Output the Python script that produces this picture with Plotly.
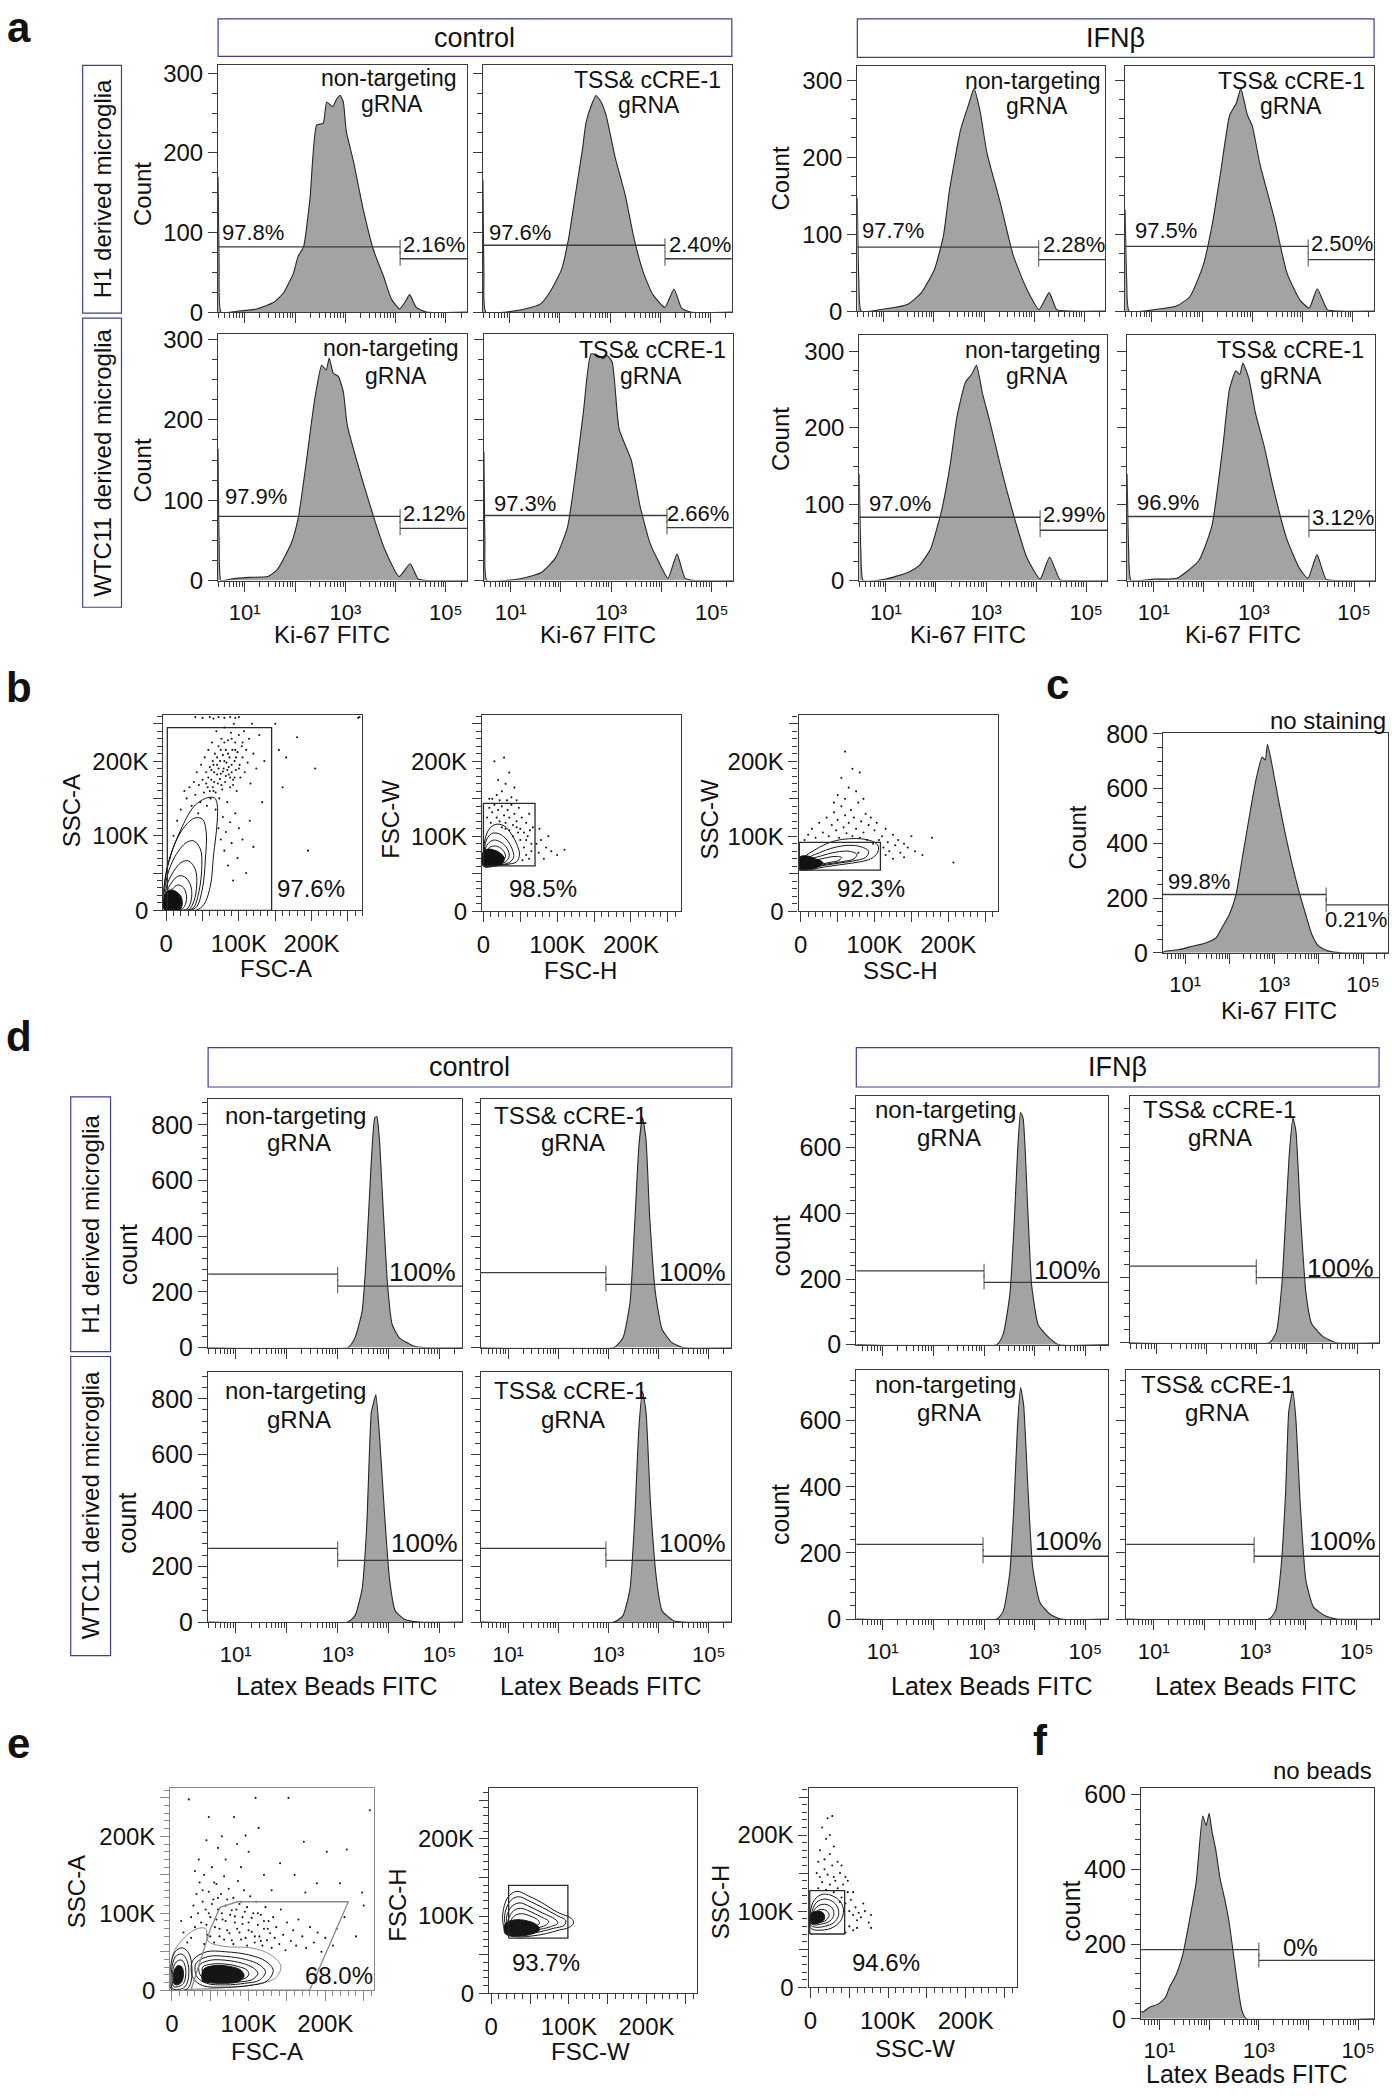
import math
import plotly.graph_objects as go

W, H = 1392, 2100
INK = '#111111'
AXC = '#3a3a3a'
FILL = '#a3a3a3'
HLINE = '#262626'
GATEC = '#3c3c3c'
BOXC = '#3f3f95'
FONT = 'Liberation Sans, Arial, Helvetica, sans-serif'

# ------------------------------------------------------------------ DATA
# Panel a: Ki-67 FITC histograms (x = log10 intensity, y = count)
a_h1_ctrl_nt_x = [0.47, 0.49, 0.53, 0.84, 1.24, 1.57, 1.77, 1.97, 2.06, 2.17, 2.3, 2.43, 2.56, 2.63, 2.75, 2.83, 2.9, 2.96, 3.02, 3.16, 3.36, 3.56, 3.76, 3.92, 4.08, 4.2, 4.28, 4.41, 4.61, 5.42]
a_h1_ctrl_nt_y = [170, 60, 0, 1, 4, 12, 24, 49, 70, 82, 144, 235, 237, 264, 258, 268, 272, 264, 227, 190, 128, 78, 45, 16, 4, 14, 22, 6, 0, 0]
a_h1_ctrl_tss_x = [0.47, 0.49, 0.53, 1.24, 1.61, 1.8, 2.03, 2.17, 2.31, 2.45, 2.52, 2.64, 2.72, 2.82, 2.92, 3.1, 3.3, 3.48, 3.67, 3.85, 4.09, 4.27, 4.42, 4.6, 5.42]
a_h1_ctrl_tss_y = [166, 50, 0, 3, 10, 25, 53, 91, 148, 205, 238, 262, 272, 264, 247, 194, 147, 91, 48, 22, 6, 29, 5, 0, 0]
a_h1_ifn_nt_x = [0.47, 0.5, 0.55, 1.04, 1.48, 1.75, 2.01, 2.19, 2.31, 2.53, 2.7, 2.8, 2.92, 3.06, 3.32, 3.58, 3.85, 4.1, 4.3, 4.45, 4.7, 5.42]
a_h1_ifn_nt_y = [147, 40, 0, 3, 9, 24, 54, 98, 157, 235, 270, 289, 260, 205, 142, 73, 29, 2, 24, 2, 0, 0]
a_h1_ifn_tss_x = [0.47, 0.5, 0.55, 1.06, 1.5, 1.76, 2.02, 2.2, 2.37, 2.55, 2.68, 2.77, 2.9, 3.0, 3.15, 3.43, 3.69, 3.95, 4.13, 4.29, 4.49, 4.7, 5.44]
a_h1_ifn_tss_y = [132, 40, 0, 2, 7, 19, 59, 112, 181, 255, 270, 289, 255, 240, 191, 122, 49, 14, 4, 29, 2, 0, 0]
a_wtc_ctrl_nt_x = [0.47, 0.49, 0.53, 0.72, 1.08, 1.46, 1.65, 1.93, 2.07, 2.21, 2.39, 2.53, 2.62, 2.68, 2.76, 2.86, 2.96, 3.04, 3.33, 3.61, 3.79, 4.07, 4.29, 4.45, 4.65, 5.42]
a_wtc_ctrl_nt_y = [164, 50, 0, 2, 4, 5, 14, 47, 80, 141, 225, 268, 262, 277, 258, 254, 235, 193, 127, 70, 38, 5, 21, 2, 0, 0]
a_wtc_ctrl_tss_x = [0.47, 0.49, 0.53, 1.24, 1.61, 1.89, 2.13, 2.31, 2.45, 2.6, 2.74, 2.84, 2.92, 3.02, 3.16, 3.4, 3.57, 3.77, 3.95, 4.13, 4.31, 4.47, 4.65, 5.42]
a_wtc_ctrl_tss_y = [160, 50, 0, 3, 10, 28, 66, 141, 211, 282, 280, 276, 280, 272, 188, 150, 94, 47, 23, 3, 33, 3, 0, 0]
a_wtc_ifn_nt_x = [0.47, 0.5, 0.55, 1.0, 1.45, 1.67, 1.89, 2.11, 2.28, 2.42, 2.59, 2.71, 2.81, 2.93, 3.07, 3.29, 3.55, 3.81, 4.08, 4.27, 4.48, 4.7, 5.42]
a_wtc_ifn_nt_y = [140, 40, 0, 2, 11, 20, 41, 91, 150, 215, 260, 270, 282, 245, 210, 150, 86, 31, 2, 31, 1, 0, 0]
a_wtc_ifn_tss_x = [0.47, 0.5, 0.55, 1.0, 1.46, 1.9, 2.16, 2.38, 2.51, 2.64, 2.72, 2.78, 2.9, 3.03, 3.21, 3.39, 3.65, 3.91, 4.08, 4.26, 4.44, 4.65, 5.44]
a_wtc_ifn_tss_y = [140, 40, 0, 2, 3, 26, 71, 175, 250, 275, 270, 285, 265, 220, 175, 121, 56, 16, 3, 34, 2, 0, 0]
# gates: (split log10, left-gate count level, right-gate count level)
a_gates = [(4.09, 82, 67), (4.09, 84, 67), (4.09, 83, 67), (4.11, 84, 67),
           (4.09, 80, 65), (4.11, 81, 66), (4.08, 83, 66), (4.10, 84, 66)]
a_left_pct = ['97.8%', '97.6%', '97.7%', '97.5%', '97.9%', '97.3%', '97.0%', '96.9%']
a_right_pct = ['2.16%', '2.40%', '2.28%', '2.50%', '2.12%', '2.66%', '2.99%', '3.12%']

# Panel c: unstained Ki-67 FITC
c_x = [0.5, 0.53, 0.87, 1.16, 1.46, 1.69, 1.84, 1.99, 2.14, 2.28, 2.43, 2.59, 2.73, 2.8, 2.85, 2.96, 3.11, 3.26, 3.41, 3.56, 3.71, 3.85, 4.0, 4.23, 4.5, 5.56]
c_y = [0, 5, 12, 24, 36, 54, 96, 139, 211, 343, 487, 632, 716, 705, 762, 680, 548, 427, 319, 223, 139, 66, 24, 6, 0, 0]
c_gate = (4.17, 213, 175)

# Panel d: Latex beads FITC histograms
d_h1_ctrl_nt_x = [0.46, 3.2, 3.34, 3.48, 3.57, 3.66, 3.73, 3.77, 3.82, 3.89, 3.98, 4.07, 4.21, 4.49, 4.7, 5.44]
d_h1_ctrl_nt_y = [0, 0, 35, 130, 351, 667, 826, 829, 746, 509, 224, 83, 35, 6, 0, 0]
d_h1_ctrl_tss_x = [0.46, 3.11, 3.29, 3.43, 3.52, 3.61, 3.68, 3.75, 3.82, 3.94, 4.07, 4.26, 4.49, 5.44]
d_h1_ctrl_tss_y = [0, 0, 35, 161, 430, 730, 826, 746, 477, 192, 66, 19, 0, 0]
d_h1_ifn_nt_x = [0.48, 3.25, 3.38, 3.51, 3.59, 3.66, 3.72, 3.77, 3.86, 3.94, 4.07, 4.29, 4.47, 5.45]
d_h1_ifn_nt_y = [0, 0, 33, 154, 355, 583, 707, 690, 422, 180, 60, 20, 0, 0]
d_h1_ifn_tss_x = [0.47, 3.25, 3.39, 3.5, 3.59, 3.65, 3.72, 3.78, 3.87, 3.98, 4.09, 4.31, 4.58, 5.44]
d_h1_ifn_tss_y = [0, 0, 33, 180, 422, 583, 690, 650, 395, 153, 60, 20, 0, 0]
d_wtc_ctrl_nt_x = [0.46, 3.2, 3.34, 3.48, 3.57, 3.66, 3.7, 3.75, 3.82, 3.92, 4.02, 4.13, 4.32, 4.6, 5.44]
d_wtc_ctrl_nt_y = [0, 0, 23, 118, 339, 750, 782, 814, 671, 387, 150, 40, 9, 0, 0]
d_wtc_ctrl_tss_x = [0.46, 3.11, 3.29, 3.43, 3.52, 3.61, 3.68, 3.75, 3.84, 3.96, 4.07, 4.3, 4.49, 5.44]
d_wtc_ctrl_tss_y = [0, 0, 23, 118, 355, 703, 826, 752, 419, 150, 40, 5, 0, 0]
d_wtc_ifn_nt_x = [0.48, 3.25, 3.38, 3.51, 3.59, 3.66, 3.72, 3.78, 3.87, 3.96, 4.1, 4.29, 4.51, 5.45]
d_wtc_ifn_nt_y = [0, 0, 24, 143, 343, 583, 700, 649, 383, 156, 51, 16, 0, 0]
d_wtc_ifn_tss_x = [0.46, 3.27, 3.4, 3.51, 3.6, 3.66, 3.7, 3.74, 3.8, 3.89, 4.0, 4.15, 4.39, 4.6, 5.44]
d_wtc_ifn_tss_y = [0, 0, 24, 156, 383, 624, 663, 690, 609, 343, 116, 36, 9, 0, 0]
d_gates = [(3.0, 264, 221), (2.95, 269, 227), (3.0, 225, 190), (2.99, 235, 200),
           (3.0, 264, 221), (2.95, 264, 221), (2.98, 226, 190), (2.98, 226, 190)]

# Panel f: no beads
f_x = [0.63, 0.66, 0.8, 0.98, 1.12, 1.2, 1.34, 1.47, 1.6, 1.74, 1.87, 1.94, 2.0, 2.06, 2.13, 2.22, 2.31, 2.4, 2.49, 2.58, 2.66, 2.75, 5.32]
f_y = [20, 18, 31, 40, 57, 84, 119, 172, 260, 366, 542, 516, 549, 498, 454, 375, 322, 260, 172, 84, 22, 0, 0]
f_gate = (3.0, 185, 156)

# Panel b: scatter gating (values in thousands)
b1_dot_x = [28, 32, 35, 38, 40, 42, 44, 45, 47, 48, 50, 52, 53, 55, 56, 57, 58, 60, 61, 62, 63, 64, 65, 66, 67, 68, 69, 70, 71, 72,
            73, 74, 75, 76, 77, 78, 79, 80, 81, 82, 83, 84, 85, 86, 87, 88, 89, 90, 91, 92, 93, 94, 95, 96, 97, 98, 100, 101, 102, 104,
            105, 107, 108, 110, 112, 114, 116, 118, 120, 124, 128, 132, 135,
            72, 75, 78, 80, 82, 85, 88, 90, 92, 95, 98, 100, 105, 110, 115, 120,
            155, 165, 180, 205, 195, 160, 150,
            40, 50, 60, 65, 72, 80, 88, 95, 100, 264, 266,
            10, 15, 20, 5, 25,
            58, 62, 66, 70, 74, 78, 82, 86, 90, 94, 64, 68, 72, 76, 80, 84, 88, 92, 96, 100, 55, 60, 65, 70, 75, 80, 85, 90, 95, 105]
b1_dot_y = [150, 165, 140, 172, 155, 185, 130, 168, 145, 195, 175, 158, 205, 185, 140, 165, 215, 192, 150, 175, 225, 200, 160, 185, 210, 135, 240, 195, 170, 220,
            150, 200, 183, 230, 162, 208, 190, 245, 172, 215, 198, 145, 228, 182, 205, 165, 238, 195, 215, 175, 250, 200, 225, 188, 160, 212, 235, 195, 178, 220,
            205, 240, 185, 215, 198, 230, 170, 250, 210, 190, 235, 145, 200,
            110, 95, 125, 80, 105, 60, 118, 90, 40, 130, 70, 110, 95, 50, 120, 85,
            215, 205, 232, 190, 80, 165, 250,
            259, 258, 259, 257, 259, 258, 259, 258, 259, 258, 259,
            100, 120, 135, 70, 160,
            178, 188, 172, 182, 176, 186, 180, 192, 185, 178, 165, 158, 190, 168, 200, 188, 178, 168, 205, 190, 170, 160, 195, 205, 215, 225, 210, 230, 215, 225]
b1_rings = [
    [(-2, 0), (-2, 38), (6, 73), (20, 108), (38, 139), (54, 150), (66, 151), (70, 143), (70, 117), (65, 73), (61, 34), (52, 8), (41, 0)],
    [(-1, 0), (-1, 45), (10, 85), (25, 112), (40, 124), (50, 122), (55, 105), (54, 70), (50, 30), (42, 5), (33, 0)],
    [(-1, 0), (0, 40), (12, 72), (28, 91), (38, 93), (47, 82), (49, 60), (45, 25), (37, 3), (28, 0)],
    [(-1, 0), (0, 30), (10, 52), (22, 65), (31, 66), (40, 55), (42, 35), (38, 12), (30, 0)],
    [(-1, 0), (0, 22), (8, 38), (17, 46), (25, 45), (33, 35), (35, 18), (30, 3), (22, 0)],
    [(-1, 0), (0, 15), (8, 28), (16, 34), (24, 30), (28, 18), (25, 5), (18, 0)],
]
b1_core = [(-2, 0), (-2, 20), (4, 27), (12, 26), (20, 19), (22, 8), (18, 0)]
b1_gate = (1.5, 145, 0, 245)

b2_dot_x = [5, 8, 10, 12, 15, 18, 20, 22, 25, 28, 30, 33, 35, 38, 40, 42, 45, 48, 50, 52, 55, 58, 60, 62, 65, 67, 55, 58, 62, 65, 50, 47, 53, 45, 40, 35, 30, 25, 58, 63,
            72, 75, 78, 82, 85, 92, 100, 110, 88, 76,
            12, 18, 25, 20, 30, 35, 15, 28, 38, 45, 42, 32, 22, 8]
b2_dot_y = [125, 138, 118, 132, 142, 125, 135, 120, 140, 128, 118, 135, 125, 142, 115, 130, 120, 138, 110, 125, 105, 118, 100, 130, 90, 112, 85, 75, 70, 80, 95, 105, 68, 112, 100, 108, 110, 112, 95, 108,
            90, 78, 95, 70, 85, 80, 75, 82, 100, 110,
            150, 155, 160, 175, 170, 185, 200, 205, 152, 148, 165, 148, 148, 150]
b2_rings = [
    [(1, 62), (0, 75), (2, 95), (8, 110), (17, 116), (28, 114), (38, 103), (45, 90), (49, 76), (45, 66), (35, 63), (20, 61), (8, 60)],
    [(1, 63), (1, 78), (4, 95), (12, 104), (22, 103), (32, 95), (39, 83), (41, 72), (35, 65), (20, 62)],
    [(1, 63), (1, 78), (6, 90), (14, 95), (24, 92), (32, 84), (35, 74), (30, 66), (15, 63)],
    [(1, 64), (2, 76), (8, 85), (17, 87), (26, 82), (30, 73), (24, 66), (12, 64)],
    [(1, 64), (3, 74), (10, 80), (19, 80), (24, 74), (20, 67), (10, 64)],
]
b2_core = [(0, 60), (0, 80), (8, 83), (20, 79), (28, 72), (26, 64), (14, 60)]
b2_gate = (0, 70, 60.5, 144)

b3_dot_x = [5, 10, 15, 20, 25, 30, 35, 38, 42, 45, 48, 50, 52, 55, 58, 60, 62, 65, 68, 70, 72, 75, 78, 80, 82, 85, 88, 90, 92, 95,
            98, 100, 103, 106, 110, 112, 115, 118, 120, 125, 128, 132, 135, 140, 145, 150, 155, 165, 178,
            60, 65, 75, 50, 45, 85, 55, 70, 80, 60, 115, 125, 140, 207, 78]
b3_dot_y = [95, 102, 110, 98, 118, 105, 125, 100, 115, 132, 108, 122, 98, 140, 112, 128, 104, 118, 135, 100, 125, 110, 145, 98, 120, 105, 130, 95, 115, 125,
            90, 108, 118, 95, 100, 85, 110, 92, 80, 102, 88, 95, 78, 90, 85, 100, 80, 75, 98,
            150, 165, 160, 155, 145, 150, 178, 190, 185, 213, 75, 70, 72, 65, 78]
b3_rings = [
    [(-2, 57), (5, 72), (21, 83), (40, 92), (57, 96), (75, 97), (87, 96), (100, 92), (105, 87), (104, 78), (95, 70), (80, 66), (60, 63), (45, 61), (25, 58), (9, 55)],
    [(-1, 58), (8, 70), (25, 78), (45, 85), (65, 88), (82, 86), (92, 80), (88, 72), (70, 67), (50, 64), (30, 61), (10, 57)],
    [(-1, 58), (10, 68), (28, 74), (48, 79), (66, 80), (76, 76), (72, 70), (55, 66), (35, 63), (15, 59)],
    [(-1, 58), (10, 66), (28, 70), (45, 73), (55, 72), (52, 68), (38, 65), (18, 61)],
]
b3_core = [(-2, 56), (-2, 72), (8, 74), (20, 70), (30, 65), (25, 60), (10, 56)]
b3_gate = (-2, 108, 55, 92)

# Panel e
e1_dot_x = [25, 28, 30, 32, 34, 36, 38, 40, 42, 44, 46, 48, 50, 52, 54, 56, 58, 60, 62, 64, 66, 68, 70, 72, 74, 76, 78, 80, 82, 84,
            86, 88, 90, 92, 94, 96, 98, 100, 102, 104, 106, 108, 110, 112, 114, 116, 118, 120, 122, 124, 126, 128, 130, 132, 134, 136, 140, 142, 145, 148,
            150, 155, 158, 162, 165, 170, 175, 180, 185, 190, 195, 200, 210, 215, 225, 240, 250,
            22, 48, 81, 109, 152, 258, 113, 96, 172, 202, 228, 141, 174, 248, 219, 189, 60, 35, 45, 70, 90, 120, 100, 55, 30, 65, 130, 160, 85, 40,
            20, 15, 25, 12,
            42, 45, 48, 50, 52, 55, 58, 60, 62, 65, 68, 70, 72, 75, 78, 80, 82, 85, 88, 90, 92, 95, 98, 100, 104, 108, 112, 116, 120, 125]
e1_dot_y = [95, 110, 82, 125, 100, 140, 88, 115, 150, 105, 72, 128, 95, 160, 118, 82, 138, 105, 70, 125, 92, 148, 110, 78, 132, 98, 65, 120, 88, 105,
            142, 75, 115, 95, 130, 68, 108, 88, 122, 76, 100, 62, 115, 85, 70, 98, 58, 80, 108, 65, 90, 74, 55, 95, 68, 82, 60, 105, 72, 52,
            88, 64, 78, 58, 92, 70, 55, 82, 62, 75, 50, 68, 58, 80, 95, 70, 110,
            248, 225, 225, 250, 250, 234, 211, 201, 193, 180, 183, 165, 127, 127, 139, 139, 185, 170, 195, 170, 160, 150, 180, 140, 155, 200, 130, 150, 190, 130,
            62, 75, 68, 90,
            60, 85, 100, 70, 112, 62, 92, 120, 80, 100, 66, 90, 118, 74, 104, 60, 96, 80, 112, 66, 86, 102, 58, 78, 94, 70, 100, 64, 90, 80]
e1_outer = [(1, 0), (1, 46), (18, 70), (33, 80), (44, 80), (47, 64), (68, 57), (103, 55), (129, 46), (142, 31), (135, 16), (111, 8), (64, 3), (20, 1)]
e1_main_rings = [
    [(28, 40), (45, 50), (70, 50), (100, 46), (122, 38), (132, 26), (124, 12), (100, 6), (70, 4), (40, 6), (28, 15), (25, 28)],
    [(32, 36), (48, 44), (70, 44), (96, 40), (114, 33), (122, 24), (114, 13), (95, 9), (70, 7), (45, 9), (33, 17), (30, 27)],
    [(36, 33), (50, 39), (70, 39), (92, 35), (106, 29), (112, 22), (105, 14), (90, 11), (70, 10), (48, 12), (38, 18), (35, 26)],
    [(40, 30), (52, 34), (70, 34), (86, 31), (98, 26), (100, 20), (94, 15), (80, 13), (62, 13), (48, 15), (41, 20)],
]
e1_main_core = [(40, 12), (41, 27), (55, 32), (75, 31), (90, 26), (94, 18), (86, 11), (65, 9), (47, 10)]
e1_debris_rings = [
    [(0, 0), (0, 40), (6, 52), (14, 55), (22, 48), (26, 30), (25, 12), (20, 2)],
    [(1, 2), (1, 35), (6, 45), (13, 47), (19, 40), (22, 26), (20, 10), (15, 3)],
    [(2, 5), (2, 30), (7, 38), (13, 39), (17, 32), (18, 20), (15, 9), (9, 5)],
]
e1_debris_core = [(3, 8), (3, 26), (8, 32), (13, 30), (15, 20), (12, 10), (7, 7)]
e1_gate_poly = [(24.7, 0), (42, 52.8), (50.6, 80.7), (62.7, 107.7), (85.2, 115), (230, 115), (179.6, 0)]

e2_rings = [
    [(16, 110), (22, 125), (33, 132), (48, 126), (64, 118), (85, 105), (103, 97), (106, 91), (100, 85), (88, 82), (70, 77), (51, 74), (35, 73), (21, 76), (15, 92)],
    [(18, 105), (25, 120), (35, 125), (50, 119), (66, 111), (84, 101), (96, 94), (94, 88), (80, 84), (60, 79), (40, 77), (25, 79), (18, 90)],
    [(20, 100), (27, 113), (37, 117), (50, 112), (66, 104), (82, 96), (86, 91), (76, 86), (58, 82), (40, 80), (27, 82), (21, 90)],
    [(22, 96), (29, 107), (38, 110), (50, 106), (64, 99), (74, 93), (70, 88), (55, 84), (40, 83), (29, 85), (23, 90)],
    [(25, 93), (31, 101), (40, 103), (50, 100), (60, 95), (62, 90), (52, 86), (40, 85), (30, 87)],
]
e2_core = [(18, 77), (18, 90), (30, 95), (45, 94), (58, 89), (62, 82), (50, 76), (32, 74)]
e2_gate = (22.4, 98.7, 71.4, 139.7)

e3_dot_x = [10, 12, 15, 18, 20, 22, 25, 28, 30, 32, 35, 38, 40, 42, 45, 48, 50, 52, 55, 58, 60, 62, 65, 70, 75, 78, 68, 55, 45, 35,
            25, 30, 20, 15, 22, 28, 18, 8, 10, 40, 48, 38, 50, 55, 60, 45, 78, 12, 25, 30]
e3_dot_y = [130, 145, 138, 155, 128, 148, 135, 160, 125, 140, 130, 150, 118, 135, 110, 125, 100, 115, 95, 105, 88, 98, 92, 100, 85, 95, 110, 125, 145, 165,
            175, 185, 195, 210, 222, 225, 168, 150, 165, 160, 140, 112, 80, 75, 78, 72, 78, 180, 200, 145]
e3_rings = [
    [(-1, 80), (0, 100), (5, 115), (15, 122), (26, 121), (36, 115), (42, 105), (41, 92), (35, 83), (25, 77), (12, 75), (3, 76)],
    [(0, 82), (2, 100), (8, 112), (18, 116), (28, 113), (35, 105), (36, 94), (30, 85), (18, 80), (6, 79)],
    [(1, 84), (3, 98), (10, 107), (20, 109), (28, 104), (30, 95), (25, 87), (14, 83), (5, 82)],
    [(2, 86), (5, 97), (12, 102), (20, 101), (24, 95), (20, 88), (10, 85)],
]
e3_core = [(0, 84), (0, 96), (8, 100), (16, 98), (18, 90), (10, 84)]
e3_gate = (-1, 44, 70, 127)

# tick labels
LOG_LABELED = ([1, 3, 5], ['10\u00b9', '10\u00b3', '10\u2075'])
LOG_UNLABELED = [2, 4]
K_LABELED = ([0, 100, 200], ['0', '100K', '200K'])
K_UNLABELED = [50, 150, 250]

# ------------------------------------------------------------------ HELPERS
fig = go.Figure()
_n = [0]
_extra = [100]
LOG_MINOR = [d + math.log10(k) for d in range(0, 6) for k in range(2, 10)]


def yt(step, top):
    v = list(range(0, top + 1, step))
    return (v, [str(t) for t in v])


def minor_arr(vals, lc=AXC):
    return dict(ticks='outside', ticklen=5, tickcolor=lc, tickwidth=1, tickmode='array', tickvals=vals)


def minor_lin(step, lc=AXC):
    return dict(ticks='outside', ticklen=5, tickcolor=lc, tickwidth=1, dtick=step, tick0=0)


def long_ticks(letter, s, vals, rng, dom, lc, length):
    """extra overlaid axis carrying long, unlabeled major ticks"""
    _extra[0] += 1
    k = _extra[0]
    other = 'y' if letter == 'x' else 'x'
    ax = dict(overlaying=letter + s, anchor=other + s, side='bottom' if letter == 'x' else 'left',
              domain=dom, range=rng, tickmode='array', tickvals=vals, ticks='outside', ticklen=length,
              tickwidth=1.2, tickcolor=lc, showticklabels=False, showline=False, showgrid=False,
              zeroline=False, fixedrange=True)
    fig.update_layout(**{letter + 'axis' + str(k): ax})
    kw = {letter + 'axis': letter + str(k), other + 'axis': other + s}
    fig.add_trace(go.Scatter(x=[], y=[], mode='markers', hoverinfo='skip', showlegend=False, **kw))


def axes(box, xr, yr, xt, ytk, xminor, yminor, xlab=True, ylab=True, xfs=22, yfs=24, lc=AXC,
         x_unl=None, y_unl=None):
    _n[0] += 1
    n = _n[0]
    s = '' if n == 1 else str(n)
    l, t, r, b = box
    xdom = [l / W, r / W]
    ydom = [1 - b / H, 1 - t / H]
    base = dict(showline=True, mirror=True, linecolor=lc, linewidth=1.2, ticks='outside',
                tickcolor=lc, tickwidth=1.2, showgrid=False, zeroline=False, fixedrange=True,
                tickmode='array')
    xa = dict(base, domain=xdom, range=xr, anchor='y' + s, tickvals=xt[0], ticktext=xt[1],
              showticklabels=xlab, ticklen=10, tickfont=dict(size=xfs, color=INK, family=FONT),
              minor=xminor, ticklabelstandoff=2)
    ya = dict(base, domain=ydom, range=yr, anchor='x' + s, tickvals=ytk[0], ticktext=ytk[1],
              showticklabels=ylab, ticklen=9, tickfont=dict(size=yfs, color=INK, family=FONT), minor=yminor)
    fig.update_layout(**{'xaxis' + s: xa, 'yaxis' + s: ya})
    if x_unl:
        long_ticks('x', s, x_unl, xr, xdom, lc, 10)
    if y_unl:
        long_ticks('y', s, y_unl, yr, ydom, lc, 9)
    return 'x' + s, 'y' + s


def hist(xa, ya, xs, ys):
    fig.add_trace(go.Scatter(x=xs, y=ys, mode='lines', fill='tozeroy', fillcolor=FILL,
                             line=dict(color=HLINE, width=1.1, shape='spline', smoothing=0.5),
                             xaxis=xa, yaxis=ya, hoverinfo='skip', showlegend=False))


def gate(xa, ya, xr, split, yl, yrt):
    for xs, yv, sz in (([xr[0], split], yl, [0, 10]), ([split, xr[1]], yrt, [10, 0])):
        fig.add_trace(go.Scatter(x=xs, y=[yv, yv], mode='lines+markers',
                                 line=dict(color=GATEC, width=1.3),
                                 marker=dict(symbol='line-ns', size=sz, line=dict(color=GATEC, width=1.3)),
                                 xaxis=xa, yaxis=ya, hoverinfo='skip', showlegend=False))


def ring(xa, ya, pts, color='#151515', width=1.0, fill=None, smooth=True):
    xs = [p[0] for p in pts] + [pts[0][0]]
    ys = [p[1] for p in pts] + [pts[0][1]]
    fig.add_trace(go.Scatter(x=xs, y=ys, mode='lines',
                             line=dict(color=color, width=width, shape='spline' if smooth else 'linear', smoothing=1.0),
                             fill='toself' if fill else None, fillcolor=fill,
                             xaxis=xa, yaxis=ya, hoverinfo='skip', showlegend=False))


def dots(xa, ya, xs, ys, size=2.1):
    fig.add_trace(go.Scatter(x=xs, y=ys, mode='markers', marker=dict(size=size, color='#1a1a1a'),
                             xaxis=xa, yaxis=ya, hoverinfo='skip', showlegend=False))


def rect_gate(xa, ya, g, color='#2a2a2a'):
    x0, x1, y0, y1 = g
    fig.add_trace(go.Scatter(x=[x0, x1, x1, x0, x0], y=[y0, y0, y1, y1, y0], mode='lines',
                             line=dict(color=color, width=1.3), xaxis=xa, yaxis=ya,
                             hoverinfo='skip', showlegend=False))


def txt(s, x, y, size=24, xanchor='center', yanchor='middle', angle=0):
    fig.add_annotation(text=s, x=x / W, y=1 - y / H, xref='paper', yref='paper', xanchor=xanchor,
                       yanchor=yanchor, showarrow=False, textangle=angle,
                       font=dict(size=size, color=INK, family=FONT))


def pbox(l, t, r, b):
    fig.add_shape(type='rect', xref='paper', yref='paper', x0=l / W, x1=r / W, y0=1 - b / H, y1=1 - t / H,
                  line=dict(color=BOXC, width=1.2), layer='above')


def two_line(l1, l2, x1, y1, x2, y2, size, spread):
    txt(l1, x1, y1 - spread, size)
    txt(l2, x2, y2 + spread, size)


# ------------------------------------------------------------------ PANEL a
A_SPECS = [
    ((214, 53, 464, 303), (0, 310), a_h1_ctrl_nt_x, a_h1_ctrl_nt_y, True, False),
    ((480, 53, 730, 303), (0, 310), a_h1_ctrl_tss_x, a_h1_ctrl_tss_y, False, False),
    ((856, 54, 1105, 302), (0, 318), a_h1_ifn_nt_x, a_h1_ifn_nt_y, True, False),
    ((1125, 54, 1375, 302), (0, 318), a_h1_ifn_tss_x, a_h1_ifn_tss_y, False, False),
    ((214, 325, 464, 575), (0, 307), a_wtc_ctrl_nt_x, a_wtc_ctrl_nt_y, True, True),
    ((481, 325, 731, 575), (0, 307), a_wtc_ctrl_tss_x, a_wtc_ctrl_tss_y, False, True),
    ((858, 326, 1107, 575), (0, 322), a_wtc_ifn_nt_x, a_wtc_ifn_nt_y, True, True),
    ((1127, 326, 1376, 575), (0, 322), a_wtc_ifn_tss_x, a_wtc_ifn_tss_y, False, True),
]
A_XR = [0.47, 5.42]
for i, (box, yr, xs, ys, ylab, xlab) in enumerate(A_SPECS):
    xa, ya = axes(box, A_XR, list(yr), LOG_LABELED, yt(100, 300), minor_arr(LOG_MINOR), minor_lin(25),
                  xlab=xlab, ylab=ylab, x_unl=LOG_UNLABELED)
    hist(xa, ya, xs, ys)
    g = a_gates[i]
    gate(xa, ya, A_XR, g[0], g[1], g[2])

A_SAMPLE = [('non-targeting', 'gRNA', 386, 68, 389, 90), ('TSS& cCRE-1', 'gRNA', 645, 70, 647, 91),
            ('non-targeting', 'gRNA', 1032, 71, 1036, 92), ('TSS& cCRE-1', 'gRNA', 1292, 71, 1292, 92),
            ('non-targeting', 'gRNA', 388, 342, 393, 365), ('TSS& cCRE-1', 'gRNA', 650, 344, 649, 365),
            ('non-targeting', 'gRNA', 1032, 344, 1036, 365), ('TSS& cCRE-1', 'gRNA', 1291, 344, 1292, 365)]
for l1, l2, x1, y1, x2, y2 in A_SAMPLE:
    two_line(l1, l2, x1, y1, x2, y2, 23, 2.5)
A_PCT_POS = [((249, 222), (431, 235)), ((517, 222), (698, 235)), ((892, 220), (1074, 235)), ((1166, 220), (1343, 234)),
             ((252, 490), (431, 507)), ((522, 497), (696, 507)), ((899, 497), (1074, 508)), ((1168, 496), (1344, 511))]
for i, (lp, rp) in enumerate(A_PCT_POS):
    txt(a_left_pct[i], lp[0], lp[1], 22)
    txt(a_right_pct[i], rp[0], rp[1], 22)

pbox(214, 6, 730, 44); txt('control', 472, 25, 27)
pbox(856, 6, 1375, 45); txt('IFNβ', 1115, 25, 27)
pbox(78, 53, 117, 304); txt('H1 derived microglia', 98, 178, 24, angle=-90)
pbox(78, 309, 117, 602); txt('WTC11 derived microglia', 98, 456, 24, angle=-90)
for x, y in [(138, 183), (138, 463), (779, 168), (779, 432)]:
    txt('Count', x, y, 24, angle=-90)
for x in [328, 596, 967, 1243]:
    txt('Ki-67 FITC', x, 630, 24)

# ------------------------------------------------------------------ PANEL b
KMIN = minor_lin(10)
xa, ya = axes((159, 711, 359, 909), [-4, 270], [0, 262], K_LABELED, K_LABELED, KMIN, KMIN, xfs=24, yfs=24,
              x_unl=K_UNLABELED, y_unl=K_UNLABELED)
dots(xa, ya, b1_dot_x, b1_dot_y)
for r in b1_rings:
    ring(xa, ya, r)
ring(xa, ya, b1_core, fill='#111111')
rect_gate(xa, ya, b1_gate)

xa, ya = axes((479, 711, 679, 910), [-2, 268], [0, 262], K_LABELED, K_LABELED, KMIN, KMIN, xfs=24, yfs=24,
              x_unl=K_UNLABELED, y_unl=K_UNLABELED)
dots(xa, ya, b2_dot_x, b2_dot_y)
for r in b2_rings:
    ring(xa, ya, r)
ring(xa, ya, b2_core, fill='#111111')
rect_gate(xa, ya, b2_gate)

xa, ya = axes((797, 711, 997, 910), [-3, 267], [0, 262], K_LABELED, K_LABELED, KMIN, KMIN, xfs=24, yfs=24,
              x_unl=K_UNLABELED, y_unl=K_UNLABELED)
dots(xa, ya, b3_dot_x, b3_dot_y)
for r in b3_rings:
    ring(xa, ya, r)
ring(xa, ya, b3_core, fill='#111111')
rect_gate(xa, ya, b3_gate)

txt('SSC-A', 67, 808, 24, angle=-90); txt('FSC-A', 272, 968, 24)
txt('FSC-W', 387, 817, 24, angle=-90); txt('FSC-H', 578, 970, 24)
txt('SSC-W', 708, 817, 24, angle=-90); txt('SSC-H', 899, 970, 24)
txt('97.6%', 307, 887, 24); txt('98.5%', 540, 887, 24); txt('92.3%', 870, 887, 24)

# ------------------------------------------------------------------ PANEL c
C_XR = [0.5, 5.56]
xa, ya = axes((1163, 729, 1389, 952), C_XR, [0, 805], LOG_LABELED, yt(200, 800), minor_arr(LOG_MINOR), minor_lin(50),
              yfs=25, x_unl=LOG_UNLABELED)
hist(xa, ya, c_x, c_y)
gate(xa, ya, C_XR, *c_gate)
txt('Count', 1077, 835, 24, angle=-90)
txt('Ki-67 FITC', 1280, 1010, 24)
txt('no staining', 1389, 717, 24, xanchor='right')
txt('99.8%', 1199, 880, 22)
txt('0.21%', 1357, 918, 22)

# ------------------------------------------------------------------ PANEL d
D_SPECS = [
    ((204, 1100, 459, 1352), [0.46, 5.44], (0, 893), 800, d_h1_ctrl_nt_x, d_h1_ctrl_nt_y, True, False),
    ((478, 1100, 729, 1352), [0.46, 5.44], (0, 893), 800, d_h1_ctrl_tss_x, d_h1_ctrl_tss_y, False, False),
    ((855, 1097, 1108, 1349), [0.48, 5.45], (0, 758), 600, d_h1_ifn_nt_x, d_h1_ifn_nt_y, True, False),
    ((1130, 1097, 1380, 1347), [0.47, 5.44], (0, 758), 600, d_h1_ifn_tss_x, d_h1_ifn_tss_y, False, False),
    ((204, 1377, 459, 1630), [0.46, 5.44], (0, 895), 800, d_wtc_ctrl_nt_x, d_wtc_ctrl_nt_y, True, True),
    ((478, 1377, 729, 1630), [0.46, 5.44], (0, 895), 800, d_wtc_ctrl_tss_x, d_wtc_ctrl_tss_y, False, True),
    ((855, 1375, 1108, 1627), [0.48, 5.45], (0, 752), 600, d_wtc_ifn_nt_x, d_wtc_ifn_nt_y, True, True),
    ((1126, 1375, 1380, 1627), [0.46, 5.44], (0, 752), 600, d_wtc_ifn_tss_x, d_wtc_ifn_tss_y, False, True),
]
for i, (box, xr, yr, ytop, xs, ys, ylab, xlab) in enumerate(D_SPECS):
    xa, ya = axes(box, xr, list(yr), LOG_LABELED, yt(200, ytop), minor_arr(LOG_MINOR), minor_lin(40),
                  xlab=xlab, ylab=ylab, yfs=25, x_unl=LOG_UNLABELED)
    hist(xa, ya, xs, ys)
    g = d_gates[i]
    gate(xa, ya, xr, g[0], g[1], g[2])

D_SAMPLE = [('non-targeting', 'gRNA', 292, 1119, 295, 1142), ('TSS& cCRE-1', 'gRNA', 568, 1119, 570, 1142),
            ('non-targeting', 'gRNA', 945, 1113, 948, 1137), ('TSS& cCRE-1', 'gRNA', 1220, 1113, 1220, 1137),
            ('non-targeting', 'gRNA', 292, 1398, 295, 1422), ('TSS& cCRE-1', 'gRNA', 568, 1398, 570, 1422),
            ('non-targeting', 'gRNA', 945, 1392, 948, 1415), ('TSS& cCRE-1', 'gRNA', 1218, 1392, 1217, 1415)]
for l1, l2, x1, y1, x2, y2 in D_SAMPLE:
    two_line(l1, l2, x1, y1, x2, y2, 24, 2.5)
for x, y in [(419, 1275), (690, 1275), (1067, 1273), (1341, 1271), (421, 1550), (690, 1550), (1068, 1548), (1343, 1548)]:
    txt('100%', x, y, 26)

pbox(204, 1048, 730, 1088); txt('control', 467, 1068, 27)
pbox(855, 1048, 1380, 1088); txt('IFNβ', 1117, 1068, 27)
pbox(66, 1098, 106, 1356); txt('H1 derived microglia', 86, 1227, 24, angle=-90)
pbox(66, 1361, 106, 1664); txt('WTC11 derived microglia', 86, 1512, 24, angle=-90)
for x, y in [(123, 1258), (123, 1530), (779, 1249), (779, 1521)]:
    txt('count', x, y, 25, angle=-90)
for x in [333, 598, 991, 1256]:
    txt('Latex Beads FITC', x, 1695, 25)

# ------------------------------------------------------------------ PANEL e
GREYAX = '#8a8a8a'
xa, ya = axes((166, 1798, 371, 2003), [-2.2, 264], [0, 263], K_LABELED, K_LABELED, minor_lin(10, GREYAX),
              minor_lin(10, GREYAX), xfs=24, yfs=24, lc=GREYAX, x_unl=K_UNLABELED, y_unl=K_UNLABELED)
dots(xa, ya, e1_dot_x, e1_dot_y)
ring(xa, ya, e1_outer, color=GREYAX)
for r in e1_main_rings:
    ring(xa, ya, r)
ring(xa, ya, e1_main_core, fill='#151515')
for r in e1_debris_rings:
    ring(xa, ya, r)
ring(xa, ya, e1_debris_core, fill='#151515')
ring(xa, ya, e1_gate_poly, color=GREYAX, width=1.3, smooth=False)

xa, ya = axes((486, 1798, 695, 2006), [-3, 265], [0, 266], K_LABELED, K_LABELED, KMIN, KMIN, xfs=24, yfs=24,
              x_unl=K_UNLABELED, y_unl=K_UNLABELED)
for r in e2_rings:
    ring(xa, ya, r)
ring(xa, ya, e2_core, fill='#151515')
rect_gate(xa, ya, e2_gate)

xa, ya = axes((807, 1798, 1016, 2000), [-2.6, 265.7], [0, 262], K_LABELED, K_LABELED, KMIN, KMIN, xfs=24, yfs=24,
              x_unl=K_UNLABELED, y_unl=K_UNLABELED)
dots(xa, ya, e3_dot_x, e3_dot_y)
for r in e3_rings:
    ring(xa, ya, r)
ring(xa, ya, e3_core, fill='#151515')
rect_gate(xa, ya, e3_gate)

txt('SSC-A', 72, 1903, 24, angle=-90); txt('FSC-A', 263, 2065, 24)
txt('FSC-H', 394, 1917, 24, angle=-90); txt('FSC-W', 588, 2065, 24)
txt('SSC-H', 718, 1913, 24, angle=-90); txt('SSC-W', 914, 2062, 24)
txt('68.0%', 335, 1988, 24); txt('93.7%', 543, 1975, 24); txt('94.6%', 885, 1975, 24)

# ------------------------------------------------------------------ PANEL f
F_XR = [0.63, 5.32]
xa, ya = axes((1141, 1798, 1375, 2032), F_XR, [0, 617], LOG_LABELED, yt(200, 600), minor_arr(LOG_MINOR), minor_lin(40),
              yfs=25, x_unl=LOG_UNLABELED)
hist(xa, ya, f_x, f_y)
gate(xa, ya, F_XR, *f_gate)
txt('count', 1071, 1923, 25, angle=-90)
txt('Latex Beads FITC', 1247, 2088, 25)
txt('no beads', 1375, 1780, 24, xanchor='right')
txt('0%', 1301, 1960, 24)

# ------------------------------------------------------------------ panel letters
for s, x, y in [('a', 14, 15), ('b', 14, 683), ('c', 1057, 680), ('d', 14, 1037), ('e', 14, 1753), ('f', 1040, 1750)]:
    txt('<b>' + s + '</b>', x, y, 42)

fig.update_layout(width=W, height=H, margin=dict(l=0, r=0, t=0, b=0), paper_bgcolor='white',
                  plot_bgcolor='white', showlegend=False, font=dict(family=FONT, color=INK))
fig.write_html('out.html', config={'displayModeBar': False},
               post_script="document.body.style.margin='0';document.body.style.overflow='hidden';")
